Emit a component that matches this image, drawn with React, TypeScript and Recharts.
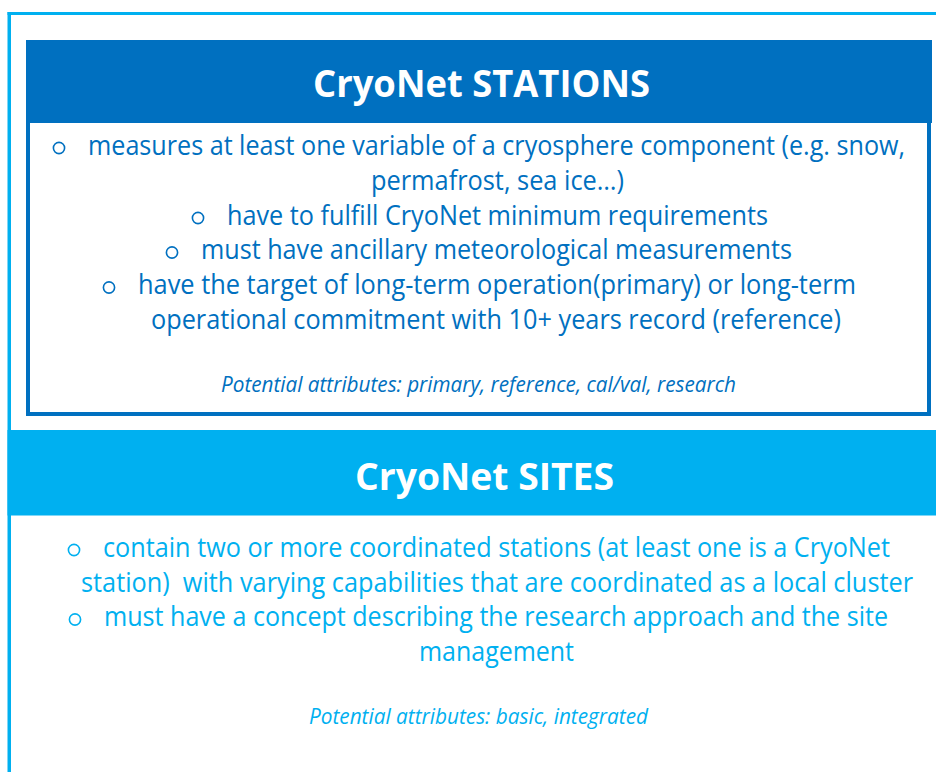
import { ComposedChart, ReferenceArea, XAxis, YAxis } from "recharts";

const DARK = "#0070C0";
const LIGHT = "#00B0F0";

const titles = ["CryoNet STATIONS", "CryoNet SITES"];

const stationCriteria = [
  "measures at least one variable of a cryosphere component (e.g. snow,",
  "permafrost, sea ice…)",
  "have to fulfill CryoNet minimum requirements",
  "must have ancillary meteorological measurements",
  "have the target of long-term operation(primary) or long-term",
  "operational commitment with 10+ years record (reference)",
];
const stationBullets = [true, false, true, true, true, false];

const siteCriteria = [
  "contain two or more coordinated stations (at least one is a CryoNet",
  "station)  with varying capabilities that are coordinated as a local cluster",
  "must have a concept describing the research approach and the site",
  "management",
];
const siteBullets = [true, false, true, false];

const attributes = [
  "Potential attributes: primary, reference, cal/val, research",
  "Potential attributes: basic, integrated",
];

// layout: [left, right, baseline] per text line, in page pixels
const stationSpans = [
  [88, 905, 154.5],
  [371, 624, 189.5],
  [227, 768, 224.5],
  [201, 792, 259],
  [138, 856, 294],
  [151, 841, 329],
];
const siteSpans = [
  [103, 890, 556.5],
  [81, 913, 591.5],
  [104, 888, 626],
  [419, 574, 661],
];
const titleSpans = [
  [313, 650, 96.5],
  [355, 614, 490],
];
const attrSpans = [
  [221, 736, 391.5],
  [309, 648, 724],
];

const FONT = "'Open Sans', 'DejaVu Sans', sans-serif";

function Line({
  text,
  span,
  color,
  size,
  bullet,
  weight,
  italic,
}: {
  text: string;
  span: number[];
  color: string;
  size: number;
  bullet?: boolean;
  weight?: number;
  italic?: boolean;
}) {
  const [x0, x1, y] = span;
  return (
    <g>
      {/* hollow "o" bullet, as in the slide */}
      {bullet && (
        <circle cx={x0 - 29} cy={y - 6.5} r={5.6} fill="none" stroke={color} strokeWidth={1.6} />
      )}
      <text
        x={x0}
        y={y}
        fill={color}
        fontFamily={FONT}
        fontSize={size}
        fontWeight={weight ?? 400}
        fontStyle={italic ? "italic" : "normal"}
        textLength={x1 - x0}
        lengthAdjust="spacingAndGlyphs"
        style={{ whiteSpace: "pre" }}
      >
        {text}
      </text>
    </g>
  );
}

function Texts() {
  return (
    <g>
      <Line text={titles[0]} span={titleSpans[0]} color="#fff" size={37} weight={700} />
      <Line text={titles[1]} span={titleSpans[1]} color="#fff" size={37} weight={700} />
      {stationCriteria.map((t, i) => (
        <Line
          key={t}
          text={t}
          span={stationSpans[i]}
          color={DARK}
          size={28}
          bullet={stationBullets[i]}
        />
      ))}
      {siteCriteria.map((t, i) => (
        <Line
          key={t}
          text={t}
          span={siteSpans[i]}
          color={LIGHT}
          size={28}
          bullet={siteBullets[i]}
        />
      ))}
      <Line text={attributes[0]} span={attrSpans[0]} color={DARK} size={21} italic />
      <Line text={attributes[1]} span={attrSpans[1]} color={LIGHT} size={21} italic />
    </g>
  );
}

export default function App() {
  return (
    <div
      style={{
        position: "absolute",
        left: 0,
        top: 0,
        width: 936,
        height: 772,
        background: "#fff",
      }}
    >
      <ComposedChart
        width={936}
        height={772}
        data={[]}
        margin={{ top: 0, right: 0, bottom: 0, left: 0 }}
      >
        <XAxis type="number" dataKey="x" domain={[0, 936]} hide allowDataOverflow />
        <YAxis type="number" domain={[0, 772]} reversed hide allowDataOverflow />
        {/* outer frame */}
        <ReferenceArea x1={7.5} x2={11} y1={12} y2={772} fill={LIGHT} fillOpacity={1} stroke="none" ifOverflow="visible" />
        <ReferenceArea x1={7.5} x2={936} y1={12} y2={15} fill={LIGHT} fillOpacity={1} stroke="none" ifOverflow="visible" />
        {/* stations box */}
        <ReferenceArea x1={28} x2={929} y1={42} y2={414} fill="#fff" fillOpacity={1} stroke={DARK} strokeWidth={4} ifOverflow="visible" />
        <ReferenceArea x1={26} x2={932} y1={40} y2={123} fill={DARK} fillOpacity={1} stroke="none" ifOverflow="visible" />
        {/* sites band */}
        <ReferenceArea x1={7.5} x2={936} y1={430} y2={515.5} fill={LIGHT} fillOpacity={1} stroke="none" ifOverflow="visible" />
        {/* all texts ride on a transparent area drawn last */}
        <ReferenceArea
          x1={0}
          x2={936}
          y1={0}
          y2={772}
          fill="none"
          fillOpacity={0}
          stroke="none"
          ifOverflow="visible"
          label={{ content: () => <Texts /> }}
        />
      </ComposedChart>
    </div>
  );
}
